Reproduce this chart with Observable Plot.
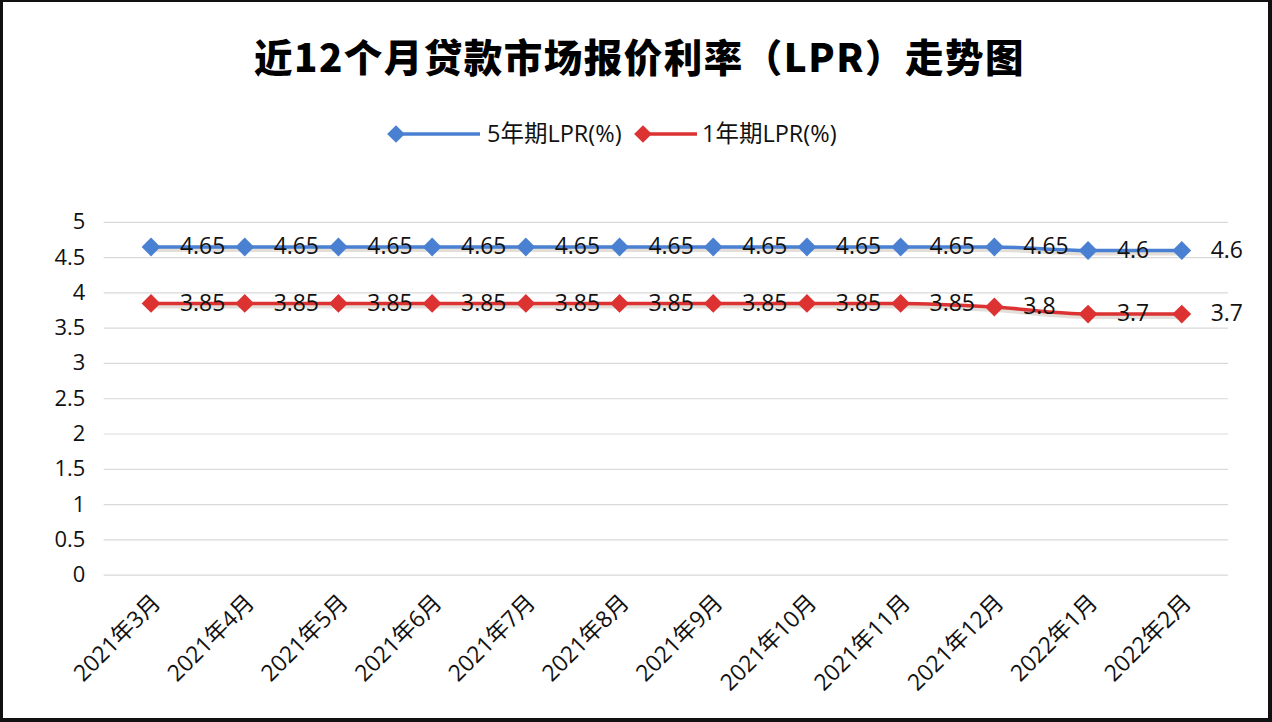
<!DOCTYPE html>
<html>
<head>
<meta charset="utf-8">
<script src="https://cdn.jsdelivr.net/npm/d3@7"></script>
<script src="https://cdn.jsdelivr.net/npm/@observablehq/plot@0.6"></script>
<style>
  html, body { margin: 0; padding: 0; background: #fff; }
  #frame { position: relative; width: 1272px; height: 722px; box-sizing: border-box;
    border-top: 2px solid #111; border-left: 3px solid #111; border-right: 4px solid #111; border-bottom: 4px solid #111;
    overflow: hidden; font-family: "Open Sans", "Noto Sans CJK SC", sans-serif; }
  #title { position: absolute; left: 4px; top: 25px; width: 1265px; text-align: center;
    font-family: "Noto Sans CJK SC", sans-serif; font-weight: 900; font-size: 38.5px; color: #000; letter-spacing: 1.5px; }
  #legend { position: absolute; left: -3px; top: 113px; width: 1272px; height: 36px; }
  #chart { position: absolute; left: -3px; top: 155px; }
</style>
</head>
<body>
<div id="frame">
  <div id="title">近12个月贷款市场报价利率（LPR）走势图</div>
  <div id="legend"></div>
  <div id="chart"></div>
</div>
<script>
const months = ["2021年3月","2021年4月","2021年5月","2021年6月","2021年7月","2021年8月","2021年9月","2021年10月","2021年11月","2021年12月","2022年1月","2022年2月"];
const lpr5 = [4.65,4.65,4.65,4.65,4.65,4.65,4.65,4.65,4.65,4.65,4.6,4.6];
const lpr1 = [3.85,3.85,3.85,3.85,3.85,3.85,3.85,3.85,3.85,3.8,3.7,3.7];
const seriesNames = ["5年期LPR(%)","1年期LPR(%)"];
const seriesColors = ["#4a80d2","#dc3232"];
const yTicks = [0,0.5,1,1.5,2,2.5,3,3.5,4,4.5,5];

const data = [];
months.forEach((m,i) => {
  data.push({month: m, value: lpr5[i], series: seriesNames[0]});
  data.push({month: m, value: lpr1[i], series: seriesNames[1]});
});

const font = '"Open Sans", "Noto Sans CJK SC", sans-serif';

const plot = Plot.plot({
  width: 1272,
  height: 567,
  marginTop: 65,
  marginBottom: 148,
  marginLeft: 104,
  marginRight: 40,
  style: {fontFamily: font, background: "transparent"},
  x: {type: "point", domain: months, padding: 0.5, axis: null},
  y: {domain: [0,5], axis: null},
  color: {domain: seriesNames, range: seriesColors},
  marks: [
    Plot.ruleY(yTicks, {stroke: "#d9d9d9", strokeWidth: 1.2}),
    Plot.text(yTicks, {frameAnchor: "left", y: d => d, text: d => String(d), textAnchor: "end", dx: -19, fontSize: 22, fill: "#111"}),
    // shadow
    Plot.line(data, {x: "month", y: "value", z: "series", stroke: "#b8ad9e", strokeOpacity: 0.4, strokeWidth: 4, dy: 3, curve: "monotone-x"}),
    Plot.line(data, {x: "month", y: "value", z: "series", stroke: "series", strokeWidth: 3.5, curve: "monotone-x"}),
    Plot.dot(data, {x: "month", y: "value", fill: "series", symbol: d3.symbolDiamond2, r: 8.5}),
    Plot.text(data, {x: "month", y: "value", text: d => String(d.value), textAnchor: "start", dx: 29, fontSize: 23, fill: "#111"}),
    Plot.text(months, {x: d => d, frameAnchor: "bottom", text: d => d, rotate: -45, textAnchor: "end", dx: 11, dy: 29, fontSize: 23, fill: "#111"})
  ]
});
document.getElementById("chart").appendChild(plot);

// legend
const lg = d3.select("#legend").append("svg").attr("width", 1272).attr("height", 36);
const items = [{x: 396, x2: 480, tx: 487}, {x: 643, x2: 697, tx: 702}];
items.forEach((it, i) => {
  const g = lg.append("g");
  g.append("line").attr("x1", it.x).attr("x2", it.x2).attr("y1", 19).attr("y2", 19)
    .attr("stroke", seriesColors[i]).attr("stroke-width", 3.5);
  g.append("path").attr("d", d3.symbol(d3.symbolDiamond2, 200)())
    .attr("transform", `translate(${it.x},19)`).attr("fill", seriesColors[i]);
  g.append("text").attr("x", it.tx).attr("y", 19).attr("dy", "0.35em")
    .attr("font-size", 23.5).attr("font-family", font).attr("fill", "#111").text(seriesNames[i]);
});
</script>
</body>
</html>
